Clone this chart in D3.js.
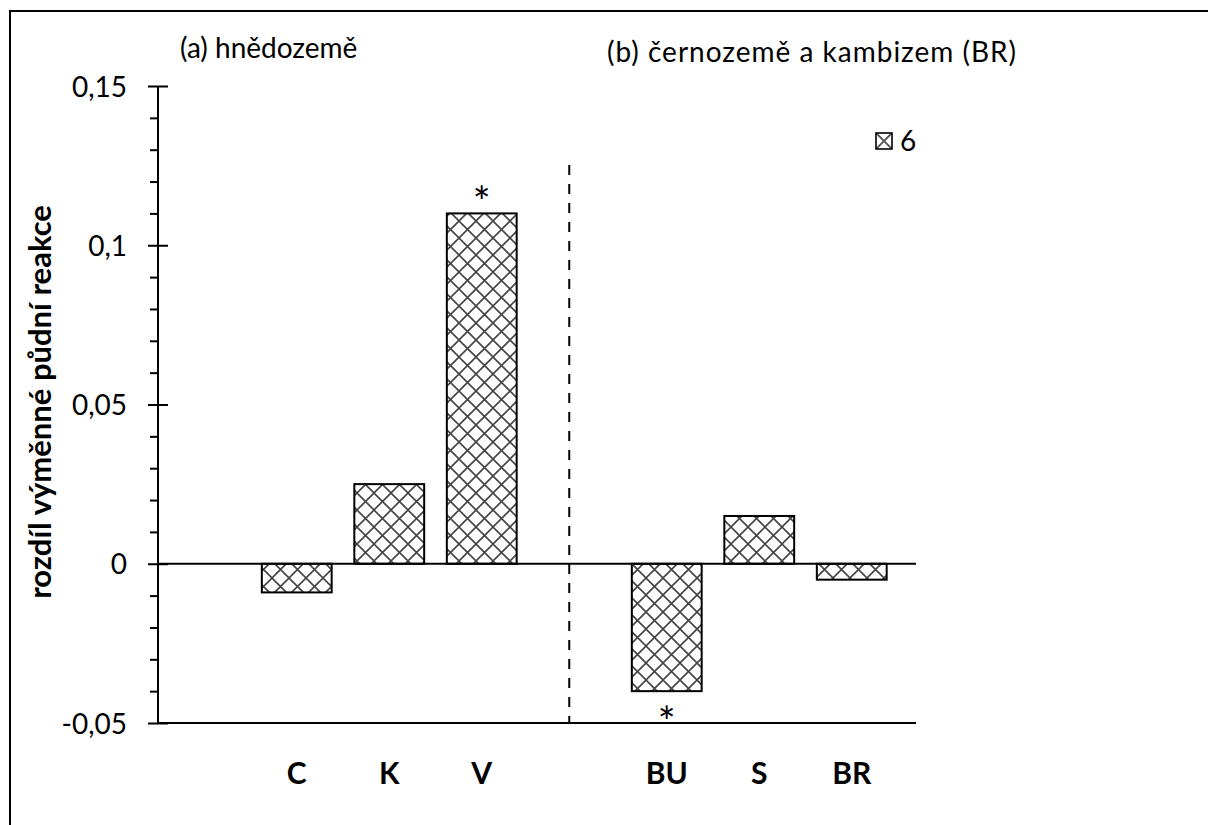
<!DOCTYPE html>
<html>
<head>
<meta charset="utf-8">
<script src="https://cdn.jsdelivr.net/npm/d3@7"></script>
<style>
  html, body { margin: 0; background: #fff; overflow: hidden; }
  svg { display: block; }
  text { font-family: Lato, "Open Sans", sans-serif; fill: #000; }
</style>
</head>
<body>
<svg id="chart"></svg>
<script>
// categories on the x axis, blank slots separate the two soil groups
const slots = ["", "C", "K", "V", "", "BU", "S", "BR"];
const categories = ["C", "K", "V", "BU", "S", "BR"];
const slotIndex = [1, 2, 3, 5, 6, 7];
const values = [-0.009, 0.025, 0.11, -0.04, 0.015, -0.005];
const significant = [false, false, true, true, false, false];
const majorTicks = [-0.05, 0, 0.05, 0.1, 0.15];
const tickLabels = ["-0,05", "0", "0,05", "0,1", "0,15"];
const minorTicks = [-0.04, -0.03, -0.02, -0.01, 0.01, 0.02, 0.03, 0.04, 0.06, 0.07, 0.08, 0.09, 0.11, 0.12, 0.13, 0.14];
const groupTitles = ["(a) hnědozemě", "(b) černozemě a kambizem (BR)"];
const seriesName = "6";

const width = 1208, height = 825;

function drawChart() {
    const svg = d3.select("#chart")
        .attr("width", width)
        .attr("height", height);

    // outer frame (only top and left edges are in view)
    svg.append("path")
        .attr("d", `M10,${height + 5}V11H${width + 5}`)
        .attr("fill", "none")
        .attr("stroke", "#000")
        .attr("stroke-width", 2);

    // hatch pattern
    const defs = svg.append("defs");
    const s = 17;
    const pat = defs.append("pattern")
        .attr("id", "hatch")
        .attr("patternUnits", "userSpaceOnUse")
        .attr("width", s).attr("height", s);
    pat.append("rect").attr("width", s).attr("height", s).attr("fill", "#fff");
    pat.append("path")
        .attr("d", `M0,0L${s},${s}M${s},0L0,${s}M-2,${s - 2}L2,${s + 2}M${s - 2},-2L${s + 2},2`)
        .attr("stroke", "#444")
        .attr("stroke-width", 1.6);

    // smaller cross for the legend key
    const lpat = defs.append("pattern")
        .attr("id", "hatchKey")
        .attr("patternUnits", "objectBoundingBox")
        .attr("patternContentUnits", "objectBoundingBox")
        .attr("width", 1).attr("height", 1);
    lpat.append("rect").attr("width", 1).attr("height", 1).attr("fill", "#fff");
    lpat.append("path")
        .attr("d", "M0,0L1,1M1,0L0,1")
        .attr("stroke", "#555")
        .attr("stroke-width", 0.12);

    const x = d3.scaleBand()
        .domain(d3.range(slots.length))
        .range([158, 898])
        .paddingInner(0.245)
        .paddingOuter(0.1225);

    const y = d3.scaleLinear()
        .domain([-0.05, 0.15])
        .range([723, 86]);

    const xEnd = 916;

    // minor ticks
    svg.append("g")
        .attr("transform", "translate(158,0)")
        .call(d3.axisLeft(y).tickValues(minorTicks).tickSize(8).tickFormat(""))
        .call(g => g.select(".domain").remove())
        .selectAll("line").attr("stroke-width", 2);

    // major ticks + labels
    const yAxis = svg.append("g")
        .attr("transform", "translate(158,0)")
        .call(d3.axisLeft(y).tickValues(majorTicks).tickSize(10)
            .tickFormat((d, i) => tickLabels[i]));
    yAxis.select(".domain").remove();
    yAxis.selectAll("line").attr("x2", -10).attr("x1", 10).attr("stroke-width", 2);
    yAxis.selectAll("text")
        .style("font-family", "Lato, sans-serif")
        .style("font-size", "28px")
        .attr("x", -31)
        .attr("dy", "0.36em");

    // vertical axis line
    svg.append("line")
        .attr("x1", 158).attr("x2", 158)
        .attr("y1", y(0.15)).attr("y2", y(-0.05))
        .attr("stroke", "#000").attr("stroke-width", 2);

    // bottom line
    svg.append("line")
        .attr("x1", 158).attr("x2", xEnd)
        .attr("y1", y(-0.05)).attr("y2", y(-0.05))
        .attr("stroke", "#000").attr("stroke-width", 2);

    // separator between groups
    svg.append("line")
        .attr("x1", x(4) + x.bandwidth() / 2 - 5)
        .attr("x2", x(4) + x.bandwidth() / 2 - 5)
        .attr("y1", 165).attr("y2", y(-0.05))
        .attr("stroke", "#000")
        .attr("stroke-width", 2)
        .attr("stroke-dasharray", "10,9");

    // bars
    svg.selectAll("rect.bar")
        .data(values)
        .enter()
        .append("rect")
        .attr("class", "bar")
        .attr("x", (d, i) => x(slotIndex[i]))
        .attr("y", d => y(Math.max(0, d)))
        .attr("width", x.bandwidth())
        .attr("height", d => Math.abs(y(d) - y(0)))
        .attr("fill", "url(#hatch)")
        .attr("stroke", "#000")
        .attr("stroke-width", 2);

    // zero line
    svg.append("line")
        .attr("x1", 158).attr("x2", xEnd)
        .attr("y1", y(0)).attr("y2", y(0))
        .attr("stroke", "#000").attr("stroke-width", 2);

    // significance stars
    svg.selectAll("text.star")
        .data(values.map((v, i) => ({ v, i })).filter(d => significant[d.i]))
        .enter()
        .append("text")
        .attr("class", "star")
        .attr("x", d => x(slotIndex[d.i]) + x.bandwidth() / 2)
        .attr("y", d => d.v > 0 ? y(d.v) + 4 : y(d.v) + 46)
        .attr("text-anchor", "middle")
        .style("font-size", "42px")
        .text("*");

    // category labels
    svg.selectAll("text.cat")
        .data(categories)
        .enter()
        .append("text")
        .attr("class", "cat")
        .attr("x", (d, i) => x(slotIndex[i]) + x.bandwidth() / 2)
        .attr("y", 784)
        .attr("text-anchor", "middle")
        .style("font-size", "30px")
        .style("font-weight", "bold")
        .text(d => d);

    // group titles
    svg.append("text")
        .attr("x", 180).attr("y", 58)
        .style("font-size", "28px")
        .text(groupTitles[0]);
    svg.append("text")
        .attr("x", 607).attr("y", 62)
        .style("font-size", "28px")
        .style("letter-spacing", "1px")
        .text(groupTitles[1]);

    // y axis title
    svg.append("text")
        .attr("transform", "translate(51,402) rotate(-90)")
        .attr("text-anchor", "middle")
        .style("font-size", "31px")
        .style("font-weight", "bold")
        .text("rozdíl výměnné půdní reakce");

    // legend
    svg.append("rect")
        .attr("x", 876).attr("y", 133)
        .attr("width", 16).attr("height", 16)
        .attr("fill", "url(#hatchKey)")
        .attr("stroke", "#000")
        .attr("stroke-width", 1.6);
    svg.append("text")
        .attr("x", 900).attr("y", 151)
        .style("font-size", "28px")
        .text(seriesName);
}

window.onload = drawChart;
</script>
</body>
</html>
